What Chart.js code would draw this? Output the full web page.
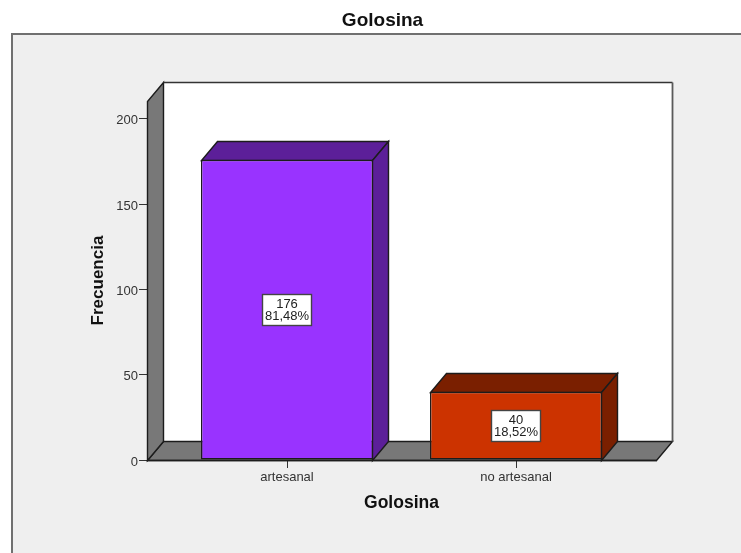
<!DOCTYPE html>
<html>
<head>
<meta charset="utf-8">
<style>
html,body{margin:0;padding:0;background:#fff;overflow:hidden}
#wrap{position:relative;width:741px;height:553px}
canvas{display:block}
</style>
<script src="https://cdn.jsdelivr.net/npm/chart.js@4"></script>
</head>
<body>
<div id="wrap"><canvas id="c" width="741" height="553"></canvas></div>
<script>
const categories = ['artesanal', 'no artesanal'];
const counts = [176, 40];
const percentLabels = ['81,48%', '18,52%'];
const frontColors = ['#9933ff', '#cc3300'];
const shadeColors = ['#5c1f99', '#7a1f00'];
const yAxisMax = 210.5;
const yTickStep = 50;

const SANS = '"Liberation Sans", Arial, sans-serif';
const depthX = 16, depthY = 19;
const wallLeft = 147, wallRight = 657;
const ink = '#1c1c1c';
const inkWidth = 1.4;

function poly(ctx, pts, fill, stroke) {
  ctx.beginPath();
  pts.forEach((p, i) => i ? ctx.lineTo(p[0], p[1]) : ctx.moveTo(p[0], p[1]));
  ctx.closePath();
  if (fill) { ctx.fillStyle = fill; ctx.fill(); }
  if (stroke) { ctx.strokeStyle = stroke; ctx.lineWidth = inkWidth; ctx.stroke(); }
}

const scene3d = {
  id: 'scene3d',
  afterLayout(chart) {
    const y = chart.scales.y;
    y.right = wallLeft;
    y.left = 88;
    y.width = y.right - y.left;
    chart.titleBlock.left = 0;
    chart.titleBlock.right = 765;
  },
  beforeDraw(chart) {
    const ctx = chart.ctx;
    ctx.save();
    ctx.fillStyle = '#efefef';
    ctx.fillRect(12, 34, 729, 519);
    ctx.fillStyle = '#707070';
    ctx.fillRect(11, 33, 730, 2);
    ctx.fillRect(11, 33, 2, 520);
    ctx.restore();
  },
  beforeDatasetsDraw(chart) {
    const ctx = chart.ctx, y = chart.scales.y;
    const y0 = y.getPixelForValue(0) + 0.5, yTop = y.getPixelForValue(yAxisMax) + 0.5;
    const L = wallLeft + 0.5, R = wallRight - 0.5;
    ctx.save();
    // back wall
    poly(ctx, [[L + depthX, yTop - depthY], [R + depthX, yTop - depthY], [R + depthX, y0 - depthY], [L + depthX, y0 - depthY]], '#ffffff', null);
    // floor and left wall
    poly(ctx, [[L, y0], [R, y0], [R + depthX, y0 - depthY], [L + depthX, y0 - depthY]], '#787878', ink);
    poly(ctx, [[L, y0], [L + depthX, y0 - depthY], [L + depthX, yTop - depthY], [L, yTop]], '#787878', ink);
    // back wall outline
    ctx.strokeStyle = '#333';
    ctx.lineWidth = inkWidth;
    ctx.beginPath();
    ctx.moveTo(L + depthX, yTop - depthY);
    ctx.lineTo(R + depthX, yTop - depthY);
    ctx.stroke();
    ctx.strokeStyle = '#5a5a5a';
    ctx.lineWidth = 1.8;
    ctx.beginPath();
    ctx.moveTo(R + depthX, yTop - depthY);
    ctx.lineTo(R + depthX, y0 - depthY);
    ctx.stroke();
    // bar depth faces
    chart.getDatasetMeta(0).data.forEach((bar, i) => {
      const p = bar.getProps(['x', 'y', 'base', 'width'], true);
      const l = Math.round(p.x - p.width / 2) + 0.5, r = Math.round(p.x + p.width / 2) - 0.5;
      const t = Math.round(p.y) + 0.5, b = Math.round(p.base) + 0.5;
      poly(ctx, [[l, t], [r, t], [r + depthX, t - depthY], [l + depthX, t - depthY]], shadeColors[i], ink);
      poly(ctx, [[r, t], [r + depthX, t - depthY], [r + depthX, b - depthY], [r, b]], shadeColors[i], ink);
    });
    ctx.restore();
  },
  afterDatasetsDraw(chart) {
    const ctx = chart.ctx, y = chart.scales.y;
    ctx.save();
    // front floor edge
    const y0 = Math.round(y.getPixelForValue(0)) + 0.5;
    ctx.strokeStyle = ink;
    ctx.lineWidth = inkWidth;
    ctx.beginPath();
    ctx.moveTo(wallLeft, y0);
    ctx.lineTo(wallRight, y0);
    ctx.stroke();
    // value boxes
    chart.getDatasetMeta(0).data.forEach((bar, i) => {
      const p = bar.getProps(['x', 'y', 'base'], true);
      const cx = Math.round(p.x), cy = Math.round((p.y + p.base) / 2);
      ctx.fillStyle = '#ffffff';
      ctx.strokeStyle = '#444';
      ctx.lineWidth = inkWidth;
      ctx.fillRect(cx - 25, cy - 16, 50, 32);
      ctx.strokeRect(cx - 24.5, cy - 15.5, 49, 31);
      ctx.fillStyle = '#222';
      ctx.font = '13px ' + SANS;
      ctx.textAlign = 'center';
      ctx.textBaseline = 'middle';
      ctx.fillText(String(counts[i]), cx, cy - 6);
      ctx.fillText(percentLabels[i], cx, cy + 6);
    });
    ctx.restore();
  }
};

new Chart(document.getElementById('c'), {
  type: 'bar',
  plugins: [scene3d],
  data: {
    labels: categories,
    datasets: [{
      data: counts,
      backgroundColor: frontColors,
      borderColor: ink,
      borderWidth: inkWidth,
      borderSkipped: false,
      categoryPercentage: 1,
      barPercentage: 0.7511
    }]
  },
  options: {
    responsive: false,
    animation: false,
    events: [],
    layout: { autoPadding: false, padding: { left: 0, top: 0, bottom: 0, right: 110.5 } },
    plugins: {
      legend: { display: false },
      tooltip: { enabled: false },
      title: {
        display: true,
        text: 'Golosina',
        color: '#111',
        font: { family: SANS, size: 19, weight: 'bold', lineHeight: 1.2 },
        padding: { top: 9, bottom: 69.2 }
      }
    },
    scales: {
      x: {
        offset: true,
        afterFit(s) { s.height = 93; },
        border: { display: false },
        grid: { display: true, drawOnChartArea: false, drawTicks: true, tickLength: 8, tickColor: '#333', offset: false },
        ticks: { color: '#333', font: { family: SANS, size: 13 }, padding: 2, maxRotation: 0, autoSkip: false },
        title: {
          display: true,
          text: 'Golosina',
          color: '#111',
          font: { family: SANS, size: 17.5, weight: 'bold', lineHeight: 1.2 },
          padding: { top: 0, bottom: 39 }
        }
      },
      y: {
        min: 0,
        max: yAxisMax,
        afterFit(s) { s.width = 172.5; },
        border: { display: false },
        grid: { display: true, drawOnChartArea: false, drawTicks: true, tickLength: 8, tickColor: '#333' },
        ticks: { stepSize: yTickStep, includeBounds: false, color: '#333', font: { family: SANS, size: 13 }, padding: 1, labelOffset: 2 },
        title: {
          display: true,
          text: 'Frecuencia',
          color: '#111',
          font: { family: SANS, size: 17, weight: 'bold', lineHeight: 1.2 },
          padding: 0
        }
      }
    }
  }
});
</script>
</body>
</html>
